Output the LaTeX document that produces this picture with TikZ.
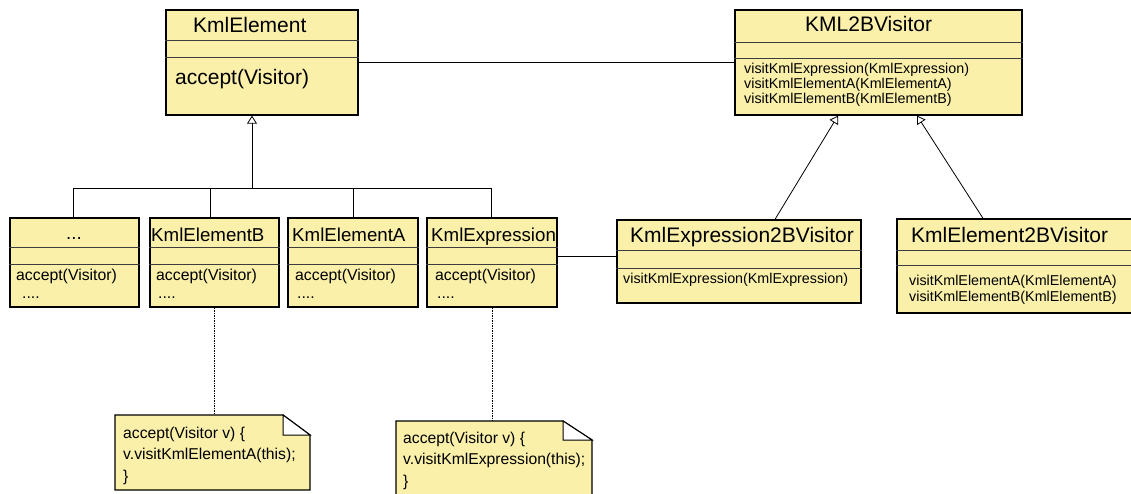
\documentclass[tikz,border=0pt]{standalone}
\usepackage{fontspec}
\setmainfont{Liberation Sans}
\usetikzlibrary{arrows.meta}
\definecolor{umlfill}{RGB}{250,240,170}
\definecolor{umldiv}{RGB}{60,60,60}
\newcommand\umlbig{\fontsize{21}{24}\selectfont}
\newcommand\umlmid{\fontsize{18.7}{22}\selectfont}
\newcommand\umlacc{\fontsize{15.8}{19}\selectfont}
\newcommand\umlmeth{\fontsize{14.3}{16}\selectfont}
\newcommand\umlnote{\fontsize{15.7}{19}\selectfont}
\begin{document}
\begin{tikzpicture}[x=1pt,y=-1pt,
  umlbox/.style={draw=black, line width=1.3pt, fill=umlfill, inner sep=0pt},
  div/.style={draw=umldiv, line width=0.9pt},
  txt/.style={inner sep=0pt, anchor=base west},
  conn/.style={draw=black, line width=0.8pt},
  inh/.style={conn, -{Triangle[open,width=10pt,length=8pt]}},
  notelink/.style={draw=black, line width=0.8pt, dash pattern=on 1.5pt off 1pt}
]
\useasboundingbox (0,0) rectangle (1131,494);

% ---- class boxes ----
\node[umlbox, minimum width=192, minimum height=105] (kel) at (262,62.5) {};
\node[umlbox, minimum width=287, minimum height=105] (kv) at (878.5,62.5) {};
\node[umlbox, minimum width=129, minimum height=89] (kdots) at (74.5,262.5) {};
\node[umlbox, minimum width=129, minimum height=89] (kelb) at (214.5,262.5) {};
\node[umlbox, minimum width=130, minimum height=89] (kela) at (353,262.5) {};
\node[umlbox, minimum width=130, minimum height=89] (kexp) at (492,262.5) {};
\node[umlbox, minimum width=244, minimum height=83] (kexv) at (739,261.5) {};
\node[umlbox, minimum width=236, minimum height=94] (kelv) at (1015,266) {};

% ---- dividers ----
\foreach \b/\ya/\yb in {kel/40/57, kv/42/58, kdots/247/264, kelb/247/264, kela/247/264, kexp/247/264, kexv/250/268, kelv/250/265}{
  \draw[div] (\b.west |- 0,\ya) -- (\b.east |- 0,\ya);
  \draw[div] (\b.west |- 0,\yb) -- (\b.east |- 0,\yb);
}

% ---- texts ----
\node[txt, font=\umlbig] (tkel) at (193,33) {KmlElement};
\node[txt, font=\umlbig] (akel) at (175,85) {accept(Visitor)};

\node[txt, font=\umlbig] (tkv) at (805,32) {KML2BVisitor};
\node[txt, font=\umlmeth] (kv1) at (744,73.5) {visitKmlExpression(KmlExpression)};
\node[txt, font=\umlmeth] (kv2) at (744,88.5) {visitKmlElementA(KmlElementA)};
\node[txt, font=\umlmeth] (kv3) at (744,103.5) {visitKmlElementB(KmlElementB)};

\node[txt, font=\umlmid, anchor=base] (tdots) at (74,240) {...};
\node[txt, font=\umlmid] (tkelb) at (151,241) {KmlElementB};
\node[txt, font=\umlmid] (tkela) at (292,241) {KmlElementA};
\node[txt, font=\umlmid] (tkexp) at (431,241) {KmlExpression};

\foreach \n/\xa/\xd in {dots/16/22, elb/156/158, ela/295/297, exp/435/437}{
  \node[txt, font=\umlacc] (acc\n) at (\xa,280) {accept(Visitor)};
  \node[txt, font=\umlacc] (dd\n) at (\xd,298) {....};
}

\node[txt, font=\umlbig] (tkexv) at (630,243) {KmlExpression2BVisitor};
\node[txt, font=\umlmeth] (kexv1) at (623,283) {visitKmlExpression(KmlExpression)};

\node[txt, font=\umlbig] (tkelv) at (911,243) {KmlElement2BVisitor};
\node[txt, font=\umlmeth] (kelv1) at (909,285) {visitKmlElementA(KmlElementA)};
\node[txt, font=\umlmeth] (kelv2) at (909,301) {visitKmlElementB(KmlElementB)};

% ---- notes ----
\node[inner sep=0pt, minimum width=195, minimum height=75] (n1) at (212.5,452.5) {};
\node[inner sep=0pt, minimum width=196, minimum height=81] (n2) at (494,461.5) {};
\fill[umlfill] (115,415) -- (283,415) -- (310,435) -- (310,490) -- (115,490) -- cycle;
\draw[line width=1.3pt, line join=miter] (283,415) -- (115,415) -- (115,490) -- (310,490) -- (310,435) -- (283,415);
\draw[line width=1pt, fill=white] (283,415) -- (283,435) -- (310,435) -- cycle;
\fill[umlfill] (396,421) -- (563,421) -- (592,440) -- (592,502) -- (396,502) -- cycle;
\draw[line width=1.3pt, line join=miter] (563,421) -- (396,421) -- (396,502) (592,502) -- (592,440) -- (563,421);
\draw[line width=1pt, fill=white] (563,421) -- (563,440) -- (592,440) -- cycle;

\node[txt, font=\umlnote] (n1a) at (123,438) {accept(Visitor v) \{};
\node[txt, font=\umlnote] (n1b) at (123,459.5) {v.visitKmlElementA(this);};
\node[txt, font=\umlnote] (n1c) at (123,481) {\}};
\node[txt, font=\umlnote] (n2a) at (403,443) {accept(Visitor v) \{};
\node[txt, font=\umlnote] (n2b) at (403,464.5) {v.visitKmlExpression(this);};
\node[txt, font=\umlnote] (n2c) at (403,486) {\}};

% ---- connectors ----
\draw[conn] (kel.east) -- (kv.west);
\coordinate (tr) at (252,188);
\coordinate (j1) at (73,188);
\coordinate (j2) at (210,188);
\coordinate (j3) at (353,188);
\coordinate (j4) at (491,188);
\draw[inh] (tr) -- (tr |- kel.south);
\draw[conn] (j1) -- (j4);
\draw[conn] (j1) -- (j1 |- kdots.north);
\draw[conn] (j2) -- (j2 |- kelb.north);
\draw[conn] (j3) -- (j3 |- kela.north);
\draw[conn] (j4) -- (j4 |- kexp.north);

\coordinate (ea) at (557,256);
\draw[conn] (kexp.east |- ea) -- (kexv.west |- ea);

\coordinate (v1) at (775,220);
\coordinate (v2) at (838,115);
\coordinate (v3) at (983,219);
\coordinate (v4) at (917,115);
\draw[inh] (v1 |- kexv.north) -- (v2 |- kv.south);
\draw[inh] (v3 |- kelv.north) -- (v4 |- kv.south);

\draw[notelink] (kelb.south) -- (kelb.south |- n1.north);
\draw[notelink] (kexp.south) -- (kexp.south |- n2.north);
\end{tikzpicture}
\end{document}
